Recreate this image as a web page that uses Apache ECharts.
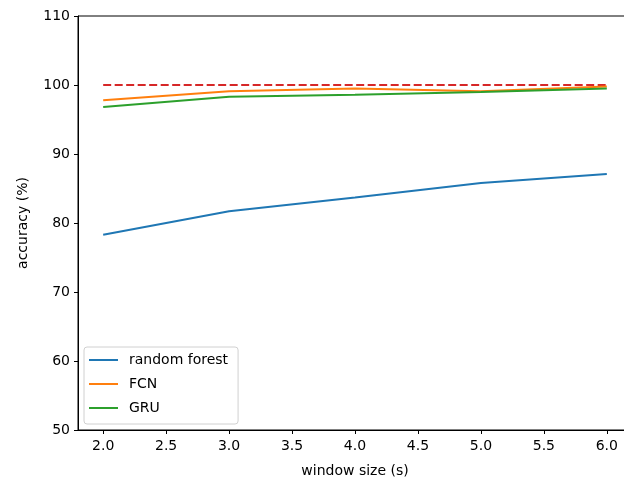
<!DOCTYPE html>
<html>
<head>
<meta charset="utf-8">
<script src="https://cdn.jsdelivr.net/npm/echarts@6/dist/echarts.min.js"></script>
<style>
  html, body { margin: 0; padding: 0; background: #fff; overflow: hidden; }
  /* wider than the window: the right spine falls just outside, as in the original */
  #chart { width: 640px; height: 479px; }
</style>
</head>
<body>
<div id="chart"></div>
<script>
const windowSizes = [2.0, 3.0, 4.0, 5.0, 6.0];
const randomForest = [78.3, 81.7, 83.7, 85.8, 87.1];
const fcn = [97.8, 99.1, 99.5, 99.1, 99.8];
const gru = [96.8, 98.3, 98.6, 99.0, 99.5];
const reference = [100, 100, 100, 100, 100];
const xTicks = [2.0, 2.5, 3.0, 3.5, 4.0, 4.5, 5.0, 5.5, 6.0];

const font = 'DejaVu Sans';
const pair = (vals) => windowSizes.map((x, i) => [x, vals[i]]);

const chart = echarts.init(document.getElementById('chart'));

const axisCommon = {
  axisLine: { show: true, lineStyle: { color: '#000', width: 1 } },
  axisTick: { show: true, inside: false, length: 4, lineStyle: { color: '#000' } },
  axisLabel: { color: '#000', fontFamily: font, fontSize: 14 },
  splitLine: { show: false },
  nameTextStyle: { color: '#000', fontFamily: font, fontSize: 14 },
};

const lineSeries = (name, data, color) => ({
  name,
  type: 'line',
  data: pair(data),
  symbol: 'none',
  lineStyle: { color, width: 2 },
  itemStyle: { color },
});

chart.setOption({
  animation: false,
  grid: {
    left: 78, right: 8, top: 16, bottom: 49,
    outerBoundsMode: 'none',
    show: true, borderColor: '#000', borderWidth: 1, backgroundColor: 'transparent',
  },
  xAxis: {
    ...axisCommon,
    type: 'value',
    min: 1.8,
    max: 6.2,
    name: 'window size (s)',
    nameLocation: 'middle',
    nameGap: 34,
    axisLabel: {
      ...axisCommon.axisLabel,
      margin: 9,
      customValues: xTicks,
      formatter: (v) => v.toFixed(1),
    },
    axisTick: { ...axisCommon.axisTick, customValues: xTicks },
  },
  yAxis: {
    ...axisCommon,
    type: 'value',
    min: 50,
    max: 110,
    interval: 10,
    name: 'accuracy (%)',
    nameLocation: 'middle',
    nameGap: 48,
    axisLabel: { ...axisCommon.axisLabel, margin: 8 },
  },
  legend: {
    left: 84,
    top: 347,
    orient: 'vertical',
    data: [
      { name: 'random forest', icon: 'rect' },
      { name: 'FCN', icon: 'rect' },
      { name: 'GRU', icon: 'rect' },
    ],
    itemWidth: 29,
    itemHeight: 2,
    itemGap: 10,
    padding: [6, 10, 9, 5],
    backgroundColor: 'rgba(255,255,255,0.8)',
    borderColor: '#d0d0d0',
    borderWidth: 1,
    borderRadius: 3,
    textStyle: { color: '#000', fontFamily: font, fontSize: 14, padding: [0, 0, 0, 6] },
  },
  series: [
    lineSeries('random forest', randomForest, '#1f77b4'),
    lineSeries('FCN', fcn, '#ff7f0e'),
    lineSeries('GRU', gru, '#2ca02c'),
    {
      name: 'reference',
      type: 'line',
      data: pair(reference),
      symbol: 'none',
      lineStyle: { color: '#d62728', width: 2, type: [8, 3.5] },
      z: 1,
    },
  ],
});
</script>
</body>
</html>
